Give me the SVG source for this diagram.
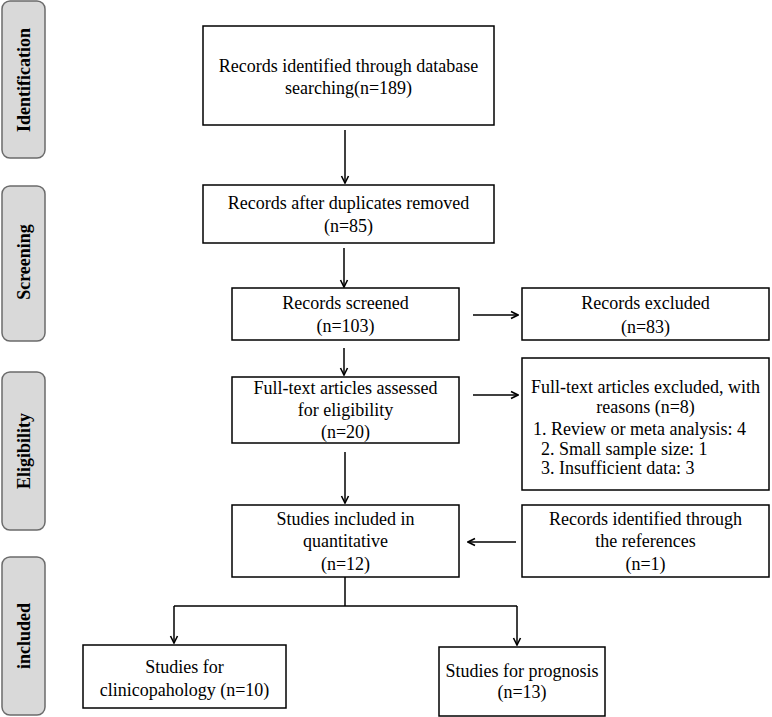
<svg xmlns="http://www.w3.org/2000/svg" width="772" height="717" viewBox="0 0 772 717">
<style>
.stage rect{fill:#d9d9d9;stroke:#6b6b6b;stroke-width:1.5}
.stage text{font-weight:bold;font-size:18px;fill:#000;text-anchor:middle}
.node rect{fill:#fff;stroke:#000;stroke-width:1.5}
.node text{font-size:18px;fill:#000;text-anchor:middle}
.node text.l{text-anchor:start}
#connectors path{fill:none;stroke:#000;stroke-width:1.5}
</style>
<defs>
<marker id="ah" markerWidth="10" markerHeight="10" refX="9" refY="5" orient="auto" markerUnits="userSpaceOnUse">
<path d="M2,1.5 L9,5 L2,8.5" fill="none" stroke="#000" stroke-width="1.6"/>
</marker>
</defs>
<rect width="772" height="717" fill="#fff"/>
<g font-family="Liberation Serif, DejaVu Serif, serif">
<g id="stage-identification" class="stage"><rect x="2" y="1" width="43" height="157" rx="8"/><text transform="translate(30,80) rotate(-90)">Identification</text></g>
<g id="stage-screening" class="stage"><rect x="2" y="186" width="43" height="155" rx="8"/><text transform="translate(30,262) rotate(-90)">Screening</text></g>
<g id="stage-eligibility" class="stage"><rect x="2" y="372" width="43" height="158" rx="8"/><text transform="translate(30,451) rotate(-90)">Eligibility</text></g>
<g id="stage-included" class="stage"><rect x="2" y="557" width="43" height="158" rx="8"/><text transform="translate(30,636) rotate(-90)">included</text></g>

<g id="n-identified" class="node"><rect x="203" y="26" width="291" height="99"/><text x="348.5" y="72">Records identified through database</text><text x="348.5" y="94">searching(n=189)</text></g>
<g id="n-duplicates" class="node"><rect x="203" y="185" width="291" height="58"/><text x="348.5" y="209">Records after duplicates removed</text><text x="348.5" y="232">(n=85)</text></g>
<g id="n-screened" class="node"><rect x="232" y="288" width="227" height="52"/><text x="345.5" y="309">Records screened</text><text x="345.5" y="332">(n=103)</text></g>
<g id="n-excluded" class="node"><rect x="522" y="288" width="247" height="52"/><text x="645.5" y="309">Records excluded</text><text x="645.5" y="333">(n=83)</text></g>
<g id="n-assessed" class="node"><rect x="232" y="377" width="227" height="66"/><text x="345.5" y="394">Full-text articles assessed</text><text x="345.5" y="416">for eligibility</text><text x="345.5" y="438">(n=20)</text></g>
<g id="n-ft-excluded" class="node"><rect x="522" y="358" width="247" height="132"/><text x="645.5" y="393">Full-text articles excluded, with</text><text x="645.5" y="413">reasons (n=8)</text><text class="l" x="533" y="435">1. Review or meta analysis: 4</text><text class="l" x="541" y="455">2. Small sample size: 1</text><text class="l" x="541" y="474">3. Insufficient data: 3</text></g>
<g id="n-included" class="node"><rect x="232" y="505" width="227" height="72"/><text x="345.5" y="525">Studies included in</text><text x="345.5" y="547">quantitative</text><text x="345.5" y="570">(n=12)</text></g>
<g id="n-references" class="node"><rect x="522" y="505" width="247" height="72"/><text x="645.5" y="525">Records identified through</text><text x="645.5" y="547">the references</text><text x="645.5" y="570">(n=1)</text></g>
<g id="n-clinico" class="node"><rect x="83" y="645" width="203" height="63"/><text x="184.5" y="673">Studies for</text><text x="184.5" y="696">clinicopahology (n=10)</text></g>
<g id="n-prognosis" class="node"><rect x="439" y="647" width="166" height="69"/><text x="522" y="677">Studies for prognosis</text><text x="522" y="698">(n=13)</text></g>
</g>
<g id="connectors">
<path d="M345,130 V183" marker-end="url(#ah)"/>
<path d="M344,248 V287" marker-end="url(#ah)"/>
<path d="M473,315 H518" marker-end="url(#ah)"/>
<path d="M344,348 V375" marker-end="url(#ah)"/>
<path d="M473,395 H518" marker-end="url(#ah)"/>
<path d="M345,452 V503" marker-end="url(#ah)"/>
<path d="M516,542 H468" marker-end="url(#ah)"/>
<path d="M345,577 V606"/>
<path d="M174,606 H517"/>
<path d="M174,606 V643" marker-end="url(#ah)"/>
<path d="M517,606 V645" marker-end="url(#ah)"/>
</g>
</svg>
